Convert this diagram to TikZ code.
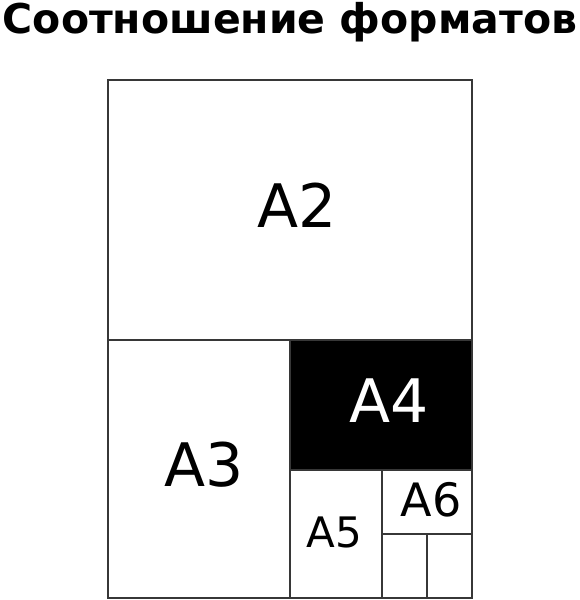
\documentclass[tikz,border=0pt]{standalone}
\usepackage{fontspec}
\setmainfont{DejaVu Sans}
\definecolor{edgegray}{RGB}{55,55,55}
\usetikzlibrary{positioning}

\begin{document}
\begin{tikzpicture}[x=1pt, y=-1pt,
  sheet/.style={draw=edgegray, line width=1.1pt},
  fmtbig/.style={font=\fontsize{60}{60}\selectfont, inner sep=0pt},
  fmtsmall/.style={font=\fontsize{44}{44}\selectfont, inner sep=0pt}]
  \useasboundingbox (0,0) rectangle (580,600);

  % Title
  \node[font=\bfseries\fontsize{41}{41}\selectfont, anchor=base, inner sep=0pt] (title) at (290,33) {Соотношение форматов};

  % Sheets
  \draw[sheet] (108,80) rectangle (472,340);
  \draw[sheet] (108,340) rectangle (290,598);
  \draw[sheet, fill=black] (290,340) rectangle (472,470);
  \draw[sheet] (290,470) rectangle (382,598);
  \draw[sheet] (382,470) rectangle (472,534);
  \draw[sheet] (382,534) rectangle (427,598);
  \draw[sheet] (427,534) rectangle (472,598);

  % Labels
  \node[fmtbig] (a2) at (297.5,205) {A2};
  \node[fmtbig] (a3) at (204.5,464.5) {A3};
  \node[fmtbig, text=white] (a4) at (389.5,401) {A4};
  \node[fmtsmall, font=\fontsize{42}{42}\selectfont] (a5) at (334.5,532.5) {A5};
  \node[fmtsmall, font=\fontsize{46}{46}\selectfont] (a6) at (431,500) {A6};
\end{tikzpicture}
\end{document}
